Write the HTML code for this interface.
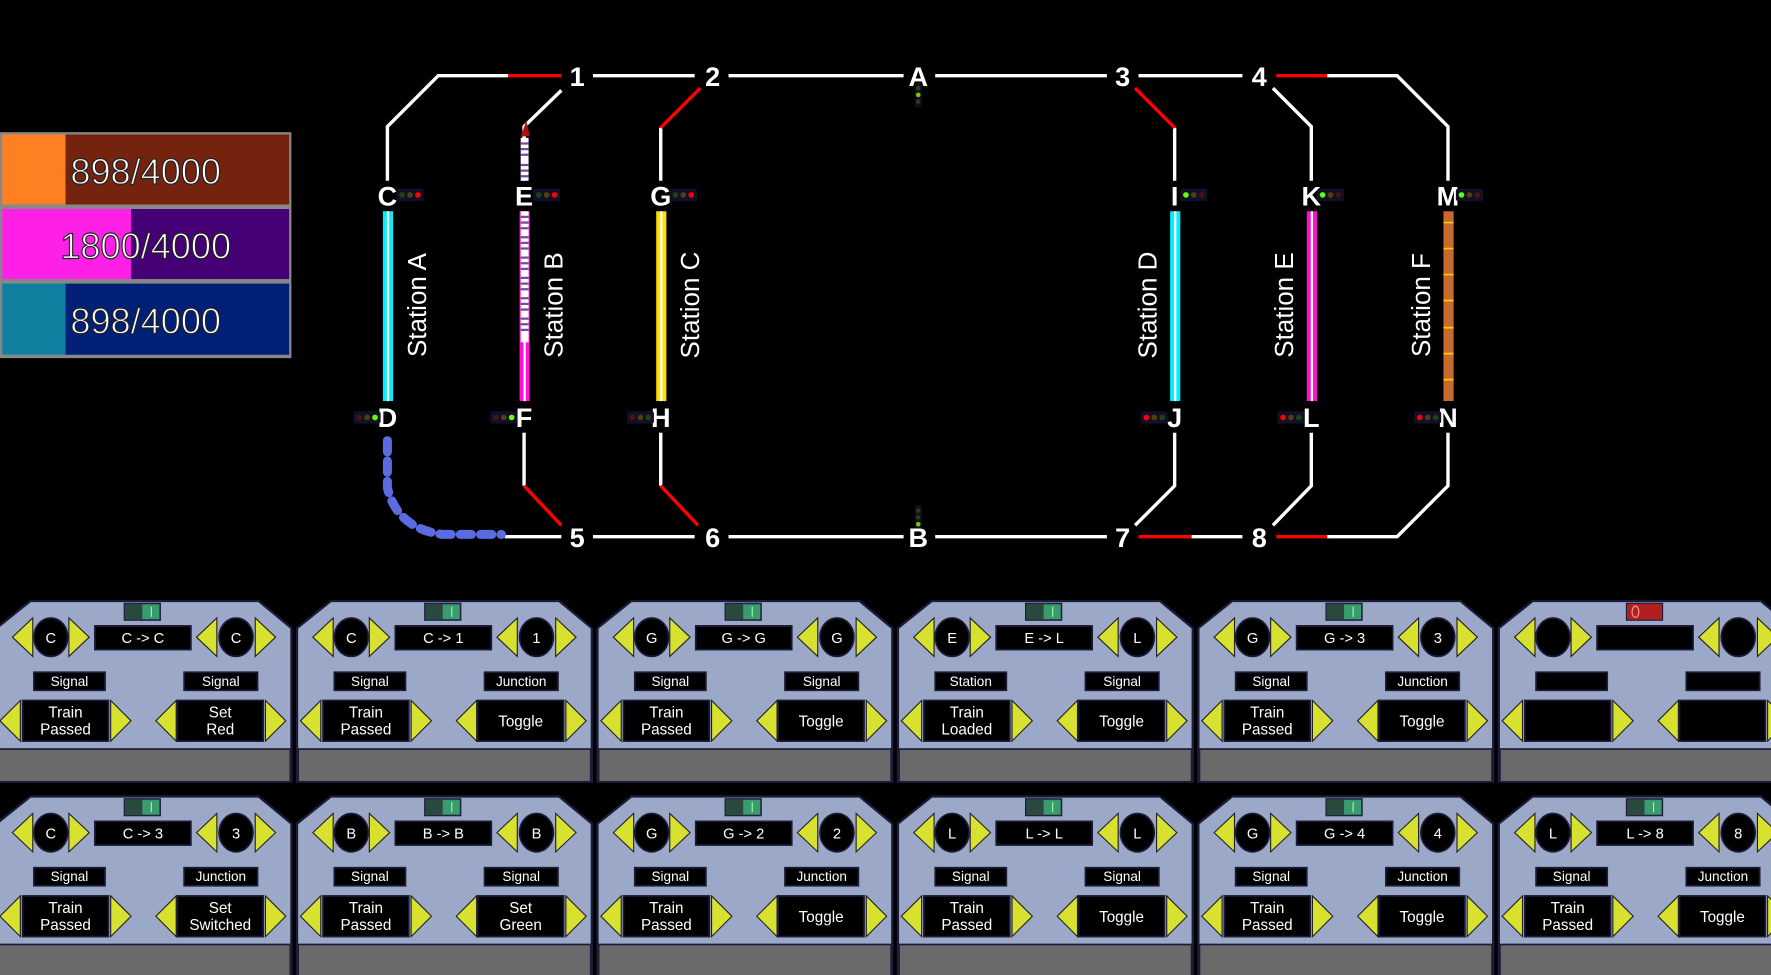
<!DOCTYPE html>
<html><head><meta charset="utf-8"><style>
html,body{margin:0;padding:0;background:#000;overflow:hidden}
svg{display:block}
text{font-family:"Liberation Sans",sans-serif;fill:#fff}
.n{font-size:24px;text-anchor:middle;font-weight:bold}
.st{font-size:23px;text-anchor:middle}
.c{font-size:13px;text-anchor:middle}
.l{font-size:12px;text-anchor:middle}
.b{font-size:13.5px;text-anchor:middle}
</style></head><body>
<svg width="1771" height="975" viewBox="0 0 1568 863" preserveAspectRatio="none">
<rect width="1568" height="863" fill="#000"/>
<defs>
<g id="pb">
<path d="M30,532 H232 L261,556 V692 H0 V556 Z" fill="#9ca8c8" stroke="#1c1c3a" stroke-width="2"/>
<rect x="1" y="663" width="259" height="29" fill="#6a6a6a" stroke="#1c1c3a" stroke-width="1.5"/>
<g fill="#d8e030" stroke="#222" stroke-width="1">
<polygon points="14,564 32,547 32,581"/><polygon points="82,564 64,547 64,581"/>
<polygon points="177,564 195,547 195,581"/><polygon points="247,564 229,547 229,581"/>
<polygon points="3,638 21,620 21,656"/><polygon points="119,638 101,620 101,656"/>
<polygon points="141,638 159,620 159,656"/><polygon points="256,638 238,620 238,656"/>
</g>
<g fill="#000" stroke="#1c1c3a" stroke-width="1.5">
<ellipse cx="48" cy="564" rx="15" ry="17"/><ellipse cx="212" cy="564" rx="15" ry="17"/>
<rect x="87" y="554" width="85" height="21"/>
<rect x="33" y="595" width="63" height="16"/><rect x="166" y="595" width="65" height="16"/>
<rect x="23" y="620" width="76" height="36"/><rect x="160" y="620" width="76" height="36"/>
</g>
</g>
<g id="ig"><rect x="113" y="534" width="32" height="15" fill="#2a4a40" stroke="#1c1c3a"/><rect x="129" y="535" width="15" height="13" fill="#3a9a70"/><line x1="137" y1="537" x2="137" y2="546" stroke="#9f9" stroke-width="1"/></g>
</defs>

<!-- counters -->
<rect x="0" y="117" width="258" height="200" fill="#888"/>
<rect x="2" y="119" width="56" height="62" fill="#ff8020"/><rect x="58" y="119" width="198" height="62" fill="#74230e"/>
<rect x="2" y="185" width="114" height="62" fill="#ff20e8"/><rect x="116" y="185" width="140" height="62" fill="#440074"/>
<rect x="2" y="251" width="56" height="63" fill="#1080a0"/><rect x="58" y="251" width="198" height="63" fill="#002078"/>
<g style="font-size:32px;text-anchor:middle;stroke:#222;stroke-width:1">
<text x="129" y="163">898/4000</text><text x="129" y="229">1800/4000</text><text x="129" y="295">898/4000</text></g>

<!-- tracks -->
<g fill="none" stroke="#fff" stroke-width="3">
<path d="M343,160 V112 L388,67 H450"/><path d="M525,67 H615 M645,67 H800 M828,67 H980 M1008,67 H1100 M1175,67 H1237 L1282,112 V160"/>
<path d="M497,80 L464,112 V160"/><path d="M585,113 V160"/><path d="M1040,113 V160"/><path d="M1127,78 L1161,112 V160"/>
<path d="M447,475 H497"/><path d="M464,383 V430"/><path d="M585,383 V430"/>
<path d="M1040,383 V430 L1005,465"/><path d="M1161,383 V430 L1127,465"/><path d="M1282,383 V430 L1237,475 H1175"/>
<path d="M525,475 H615 M645,475 H800 M828,475 H980 M1055,475 H1100"/>
</g>
<g fill="none" stroke="#f00" stroke-width="3">
<path d="M450,67 H497"/><path d="M1130,67 H1175"/><path d="M620,78 L585,113"/><path d="M1005,78 L1040,113"/>
<path d="M464,430 L497,465"/><path d="M585,430 L618,465"/><path d="M1008,475 H1055"/><path d="M1130,475 H1175"/>
</g>
<!-- A/B signals -->
<g fill="#333"><rect x="810" y="73" width="6" height="22" fill="#111"/><circle cx="813" cy="78" r="2"/><circle cx="813" cy="84" r="2" fill="#7c0"/><circle cx="813" cy="90" r="2"/>
<rect x="810" y="447" width="6" height="22" fill="#111"/><circle cx="813" cy="452" r="2"/><circle cx="813" cy="458" r="2"/><circle cx="813" cy="464" r="2" fill="#7c0"/></g>

<!-- station bars -->
<g>
<rect x="339" y="187" width="9" height="168" fill="#00f0ff"/><rect x="342.5" y="187" width="2" height="168" fill="#fff"/>
<rect x="460" y="187" width="9" height="168" fill="#ff10d0"/><rect x="463.5" y="187" width="2" height="168" fill="#fff"/>
<rect x="461" y="187" width="7" height="116" fill="#fff"/>
<path d="M461,192 H468 M461,197 H468 M461,202 H468 M461,210 H468 M461,215 H468 M461,220 H468 M461,228 H468 M461,233 H468 M461,238 H468 M461,246 H468 M461,251 H468 M461,256 H468 M461,264 H468 M461,269 H468 M461,274 H468 M461,282 H468 M461,287 H468 M461,292 H468" stroke="#7a4a9a" stroke-width="2"/>
<rect x="461" y="122" width="7" height="38" fill="#fff"/>
<path d="M461,127 H468 M461,132 H468 M461,137 H468 M461,146 H468 M461,151 H468 M461,156 H468" stroke="#7a4a9a" stroke-width="2"/>
<polygon points="466,107 469,120 461,121" fill="#b01010"/>
<rect x="581" y="187" width="9" height="168" fill="#ffe000"/><rect x="584.5" y="187" width="2" height="168" fill="#fff"/>
<rect x="1036" y="187" width="9" height="168" fill="#00f0ff"/><rect x="1039.5" y="187" width="2" height="168" fill="#fff"/>
<rect x="1157" y="187" width="9" height="168" fill="#ff10d0"/><rect x="1160.5" y="187" width="2" height="168" fill="#fff"/>
<rect x="1278" y="187" width="9" height="168" fill="#c86a30"/>
<path d="M1278,197 H1287 M1278,220 H1287 M1278,243 H1287 M1278,266 H1287 M1278,290 H1287 M1278,313 H1287 M1278,336 H1287" stroke="#ffcc00" stroke-width="1.5"/>
</g>
<path d="M343,390 V432 Q352,468 392,473 H444" fill="none" stroke="#5a6ce0" stroke-width="8" stroke-linecap="round" stroke-dasharray="10 8"/>

<!-- node labels -->
<g class="n">
<text x="511" y="76" class="n">1</text><text x="631" y="76" class="n">2</text><text x="813" y="76" class="n">A</text><text x="994" y="76" class="n">3</text><text x="1115" y="76" class="n">4</text>
<text x="511" y="484" class="n">5</text><text x="631" y="484" class="n">6</text><text x="813" y="484" class="n">B</text><text x="994" y="484" class="n">7</text><text x="1115" y="484" class="n">8</text>
<text x="343" y="182" class="n">C</text><text x="464" y="182" class="n">E</text><text x="585" y="182" class="n">G</text><text x="1040" y="182" class="n">I</text><text x="1161" y="182" class="n">K</text><text x="1282" y="182" class="n">M</text>
<text x="343" y="378" class="n">D</text><text x="464" y="378" class="n">F</text><text x="585" y="378" class="n">H</text><text x="1040" y="378" class="n">J</text><text x="1161" y="378" class="n">L</text><text x="1282" y="378" class="n">N</text>
</g>
<!-- signals -->
<g>
<g transform="translate(351,167)"><rect width="24" height="11" rx="2" fill="#101028"/><circle cx="5" cy="5.5" r="2.5" fill="#224010"/><circle cx="12" cy="5.5" r="2.5" fill="#504010"/><circle cx="19" cy="5.5" r="2.5" fill="#f00"/></g>
<g transform="translate(472,167)"><rect width="24" height="11" rx="2" fill="#101028"/><circle cx="5" cy="5.5" r="2.5" fill="#224010"/><circle cx="12" cy="5.5" r="2.5" fill="#504010"/><circle cx="19" cy="5.5" r="2.5" fill="#f00"/></g>
<g transform="translate(593,167)"><rect width="24" height="11" rx="2" fill="#101028"/><circle cx="5" cy="5.5" r="2.5" fill="#224010"/><circle cx="12" cy="5.5" r="2.5" fill="#504010"/><circle cx="19" cy="5.5" r="2.5" fill="#f00"/></g>
<g transform="translate(1045,167)"><rect width="24" height="11" rx="2" fill="#101028"/><circle cx="5" cy="5.5" r="2.5" fill="#6f0"/><circle cx="12" cy="5.5" r="2.5" fill="#504010"/><circle cx="19" cy="5.5" r="2.5" fill="#501010"/></g>
<g transform="translate(1166,167)"><rect width="24" height="11" rx="2" fill="#101028"/><circle cx="5" cy="5.5" r="2.5" fill="#6f0"/><circle cx="12" cy="5.5" r="2.5" fill="#504010"/><circle cx="19" cy="5.5" r="2.5" fill="#501010"/></g>
<g transform="translate(1289,167)"><rect width="24" height="11" rx="2" fill="#101028"/><circle cx="5" cy="5.5" r="2.5" fill="#6f0"/><circle cx="12" cy="5.5" r="2.5" fill="#504010"/><circle cx="19" cy="5.5" r="2.5" fill="#501010"/></g>
<g transform="translate(313,364)"><rect width="24" height="11" rx="2" fill="#101028"/><circle cx="5" cy="5.5" r="2.5" fill="#501010"/><circle cx="12" cy="5.5" r="2.5" fill="#504010"/><circle cx="19" cy="5.5" r="2.5" fill="#6f0"/></g>
<g transform="translate(434,364)"><rect width="24" height="11" rx="2" fill="#101028"/><circle cx="5" cy="5.5" r="2.5" fill="#501010"/><circle cx="12" cy="5.5" r="2.5" fill="#504010"/><circle cx="19" cy="5.5" r="2.5" fill="#6f0"/></g>
<g transform="translate(555,364)"><rect width="24" height="11" rx="2" fill="#101028"/><circle cx="5" cy="5.5" r="2.5" fill="#501010"/><circle cx="12" cy="5.5" r="2.5" fill="#504010"/><circle cx="19" cy="5.5" r="2.5" fill="#224010"/></g>
<g transform="translate(1010,364)"><rect width="24" height="11" rx="2" fill="#101028"/><circle cx="5" cy="5.5" r="2.5" fill="#f00"/><circle cx="12" cy="5.5" r="2.5" fill="#504010"/><circle cx="19" cy="5.5" r="2.5" fill="#224010"/></g>
<g transform="translate(1131,364)"><rect width="24" height="11" rx="2" fill="#101028"/><circle cx="5" cy="5.5" r="2.5" fill="#f00"/><circle cx="12" cy="5.5" r="2.5" fill="#504010"/><circle cx="19" cy="5.5" r="2.5" fill="#224010"/></g>
<g transform="translate(1252,364)"><rect width="24" height="11" rx="2" fill="#101028"/><circle cx="5" cy="5.5" r="2.5" fill="#f00"/><circle cx="12" cy="5.5" r="2.5" fill="#504010"/><circle cx="19" cy="5.5" r="2.5" fill="#224010"/></g>
</g>
<!-- station labels -->
<g class="st">
<text class="st" transform="translate(377,270) rotate(-90)">Station A</text>
<text class="st" transform="translate(498,270) rotate(-90)">Station B</text>
<text class="st" transform="translate(619,270) rotate(-90)">Station C</text>
<text class="st" transform="translate(1024,270) rotate(-90)">Station D</text>
<text class="st" transform="translate(1145,270) rotate(-90)">Station E</text>
<text class="st" transform="translate(1266,270) rotate(-90)">Station F</text>
</g>

<!-- panels row 1 -->
<g transform="translate(-3,0)"><use href="#pb"/><use href="#ig"/>
<text class="c" x="48" y="569">C</text><text class="c" x="129.5" y="569">C -&gt; C</text><text class="c" x="212" y="569">C</text>
<text class="l" x="64.5" y="607">Signal</text><text class="l" x="198.5" y="607">Signal</text>
<text class="b" x="61" y="635">Train</text><text class="b" x="61" y="650">Passed</text><text class="b" x="198" y="635">Set</text><text class="b" x="198" y="650">Red</text></g>
<g transform="translate(263,0)"><use href="#pb"/><use href="#ig"/>
<text class="c" x="48" y="569">C</text><text class="c" x="129.5" y="569">C -&gt; 1</text><text class="c" x="212" y="569">1</text>
<text class="l" x="64.5" y="607">Signal</text><text class="l" x="198.5" y="607">Junction</text>
<text class="b" x="61" y="635">Train</text><text class="b" x="61" y="650">Passed</text><text class="b" x="198" y="643">Toggle</text></g>
<g transform="translate(529,0)"><use href="#pb"/><use href="#ig"/>
<text class="c" x="48" y="569">G</text><text class="c" x="129.5" y="569">G -&gt; G</text><text class="c" x="212" y="569">G</text>
<text class="l" x="64.5" y="607">Signal</text><text class="l" x="198.5" y="607">Signal</text>
<text class="b" x="61" y="635">Train</text><text class="b" x="61" y="650">Passed</text><text class="b" x="198" y="643">Toggle</text></g>
<g transform="translate(795,0)"><use href="#pb"/><use href="#ig"/>
<text class="c" x="48" y="569">E</text><text class="c" x="129.5" y="569">E -&gt; L</text><text class="c" x="212" y="569">L</text>
<text class="l" x="64.5" y="607">Station</text><text class="l" x="198.5" y="607">Signal</text>
<text class="b" x="61" y="635">Train</text><text class="b" x="61" y="650">Loaded</text><text class="b" x="198" y="643">Toggle</text></g>
<g transform="translate(1061,0)"><use href="#pb"/><use href="#ig"/>
<text class="c" x="48" y="569">G</text><text class="c" x="129.5" y="569">G -&gt; 3</text><text class="c" x="212" y="569">3</text>
<text class="l" x="64.5" y="607">Signal</text><text class="l" x="198.5" y="607">Junction</text>
<text class="b" x="61" y="635">Train</text><text class="b" x="61" y="650">Passed</text><text class="b" x="198" y="643">Toggle</text></g>
<g transform="translate(1327,0)"><use href="#pb"/>
<rect x="113" y="534" width="32" height="15" fill="#b02020" stroke="#1c1c3a"/><ellipse cx="121" cy="541.5" rx="3" ry="5" fill="none" stroke="#f99"/></g>

<!-- panels row 2 -->
<g transform="translate(-3,173)"><use href="#pb"/><use href="#ig"/>
<text class="c" x="48" y="569">C</text><text class="c" x="129.5" y="569">C -&gt; 3</text><text class="c" x="212" y="569">3</text>
<text class="l" x="64.5" y="607">Signal</text><text class="l" x="198.5" y="607">Junction</text>
<text class="b" x="61" y="635">Train</text><text class="b" x="61" y="650">Passed</text><text class="b" x="198" y="635">Set</text><text class="b" x="198" y="650">Switched</text></g>
<g transform="translate(263,173)"><use href="#pb"/><use href="#ig"/>
<text class="c" x="48" y="569">B</text><text class="c" x="129.5" y="569">B -&gt; B</text><text class="c" x="212" y="569">B</text>
<text class="l" x="64.5" y="607">Signal</text><text class="l" x="198.5" y="607">Signal</text>
<text class="b" x="61" y="635">Train</text><text class="b" x="61" y="650">Passed</text><text class="b" x="198" y="635">Set</text><text class="b" x="198" y="650">Green</text></g>
<g transform="translate(529,173)"><use href="#pb"/><use href="#ig"/>
<text class="c" x="48" y="569">G</text><text class="c" x="129.5" y="569">G -&gt; 2</text><text class="c" x="212" y="569">2</text>
<text class="l" x="64.5" y="607">Signal</text><text class="l" x="198.5" y="607">Junction</text>
<text class="b" x="61" y="635">Train</text><text class="b" x="61" y="650">Passed</text><text class="b" x="198" y="643">Toggle</text></g>
<g transform="translate(795,173)"><use href="#pb"/><use href="#ig"/>
<text class="c" x="48" y="569">L</text><text class="c" x="129.5" y="569">L -&gt; L</text><text class="c" x="212" y="569">L</text>
<text class="l" x="64.5" y="607">Signal</text><text class="l" x="198.5" y="607">Signal</text>
<text class="b" x="61" y="635">Train</text><text class="b" x="61" y="650">Passed</text><text class="b" x="198" y="643">Toggle</text></g>
<g transform="translate(1061,173)"><use href="#pb"/><use href="#ig"/>
<text class="c" x="48" y="569">G</text><text class="c" x="129.5" y="569">G -&gt; 4</text><text class="c" x="212" y="569">4</text>
<text class="l" x="64.5" y="607">Signal</text><text class="l" x="198.5" y="607">Junction</text>
<text class="b" x="61" y="635">Train</text><text class="b" x="61" y="650">Passed</text><text class="b" x="198" y="643">Toggle</text></g>
<g transform="translate(1327,173)"><use href="#pb"/><use href="#ig"/>
<text class="c" x="48" y="569">L</text><text class="c" x="129.5" y="569">L -&gt; 8</text><text class="c" x="212" y="569">8</text>
<text class="l" x="64.5" y="607">Signal</text><text class="l" x="198.5" y="607">Junction</text>
<text class="b" x="61" y="635">Train</text><text class="b" x="61" y="650">Passed</text><text class="b" x="198" y="643">Toggle</text></g>
</svg>
</body></html>
